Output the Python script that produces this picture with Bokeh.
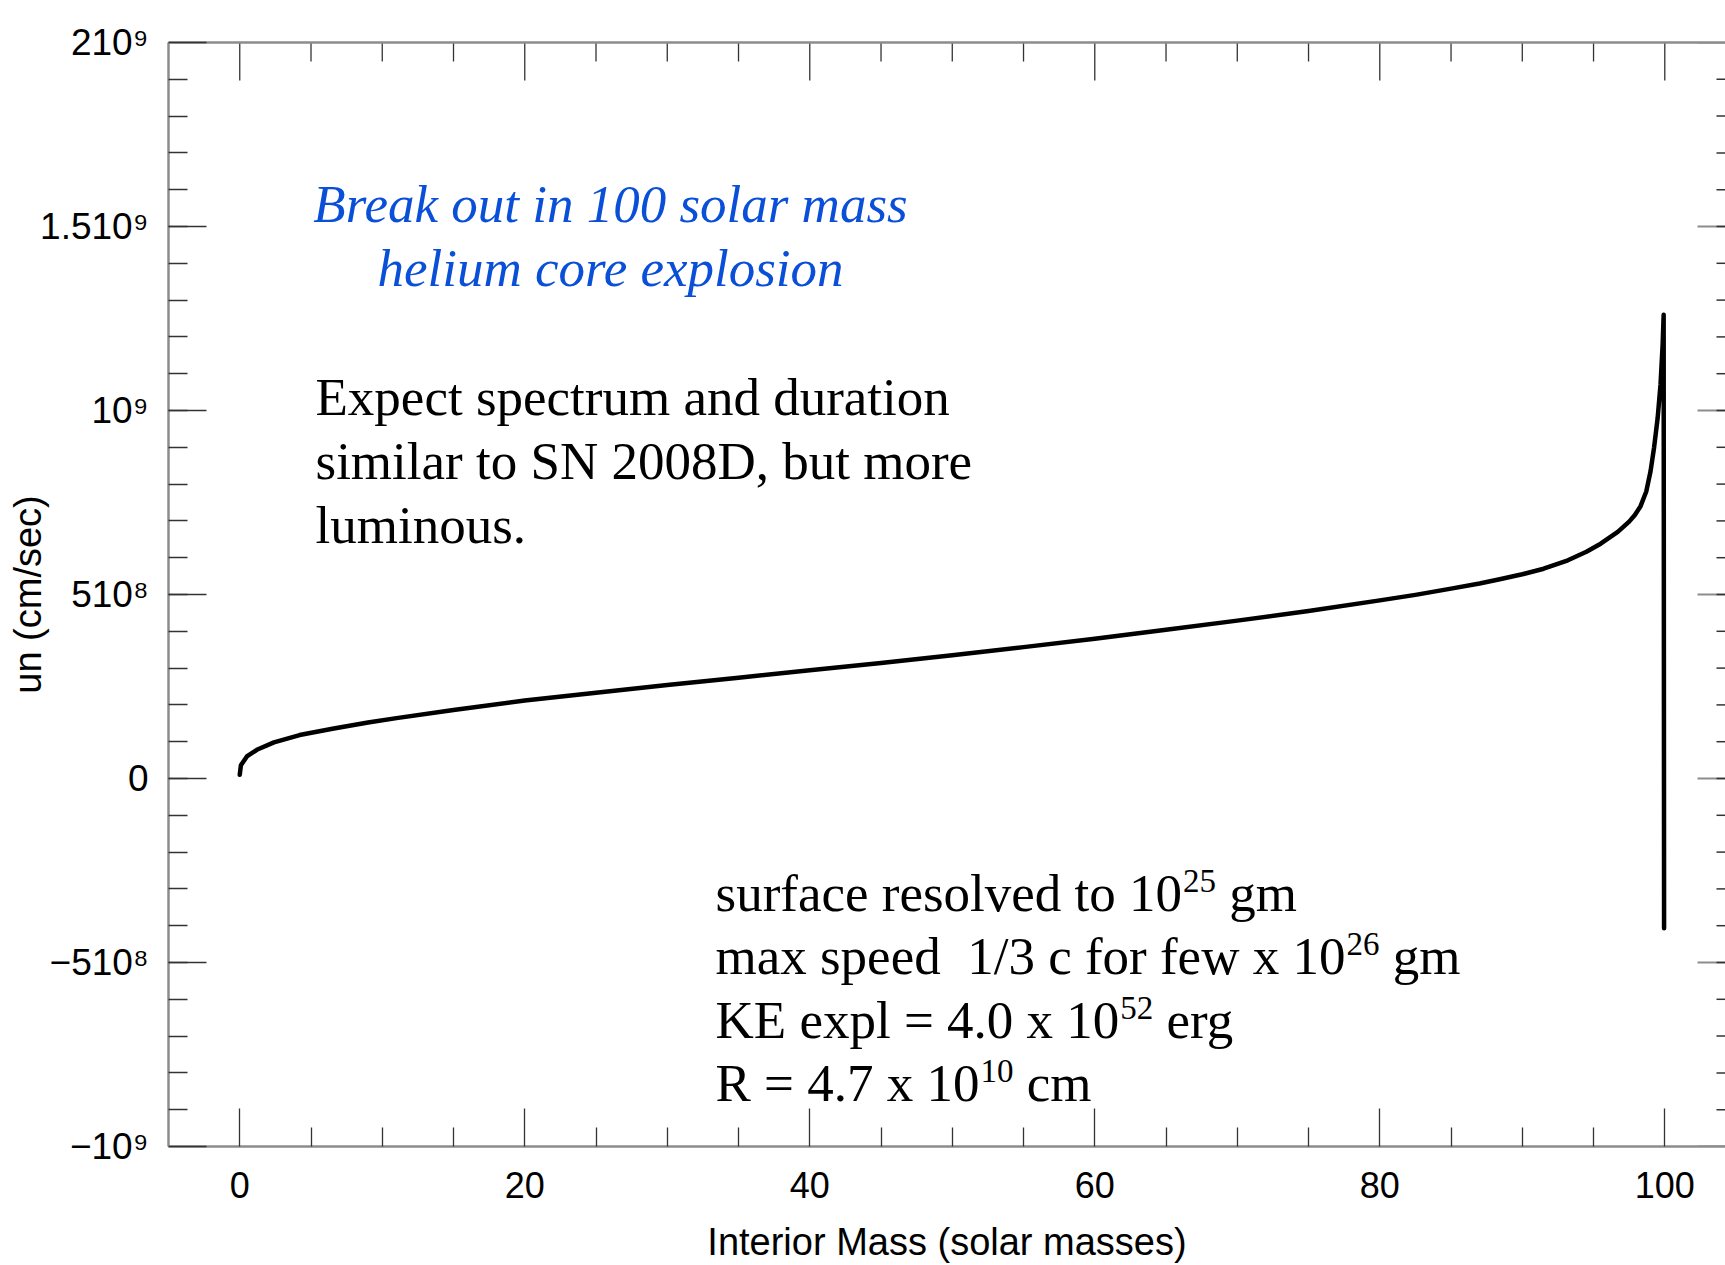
import math
from bokeh.plotting import figure
from bokeh.models import (LinearAxis, FixedTicker, Label, CustomJSTickFormatter,
                          Range1d)
from bokeh.embed import file_html
from bokeh.resources import INLINE

# ---------------- data ----------------
mass = [0.0, 0.08, 0.5, 1.2, 2.4, 4.2, 6.6, 9.0, 11.0, 15.0, 20.0, 25.0,
        30.0, 35.0, 40.0, 45.0, 50.0, 55.0, 60.0, 65.0, 70.0, 75.0, 80.0,
        82.5, 85.0, 87.0, 88.5, 90.0, 91.5, 93.2, 94.5, 95.5, 96.7, 97.5,
        97.9, 98.3, 98.7, 99.0, 99.25, 99.5, 99.7, 99.85, 99.92, 99.95]
velocity_1e8 = [0.10, 0.36, 0.60, 0.78, 0.98, 1.18, 1.36, 1.52, 1.64, 1.86,
                2.12, 2.33, 2.54, 2.74, 2.94, 3.14, 3.35, 3.57, 3.80, 4.04,
                4.29, 4.55, 4.84, 4.99, 5.16, 5.30, 5.42, 5.55, 5.70, 5.93,
                6.16, 6.38, 6.70, 6.98, 7.16, 7.40, 7.80, 8.35, 9.00, 9.80,
                10.7, 11.8, 12.6, -4.07]

x_major = [0, 20, 40, 60, 80, 100]
x_minor = [5, 10, 15, 25, 30, 35, 45, 50, 55, 65, 70, 75, 85, 90, 95]
y_major = [-1e9, -5e8, 0, 5e8, 1e9, 1.5e9, 2e9]
y_tick_labels = ["\u221210\u2079", "\u2212510\u2078", "0", "510\u2078",
                 "10\u2079", "1.510\u2079", "210\u2079"]

title_lines = ["Break out in 100 solar mass", "helium core explosion"]
note_lines = ["Expect spectrum and duration", "similar to SN 2008D, but more",
              "luminous."]
fact_lines = [("surface resolved to 10", "25", "gm"),
              ("max speed\u00a0 1/3 c for few x 10", "26", "gm"),
              ("KE expl = 4.0 x 10", "52", "erg"),
              ("R = 4.7 x 10", "10", "cm")]

x_label = "Interior Mass (solar masses)"
y_label = "un (cm/sec)"

# ---------------- layout constants ----------------
W, H = 1725, 1265
LEFT, TOP, BOTTOM = 168, 42, 1148
X_START, X_END = -5, 104.26
Y_START, Y_END = -1e9, 2e9
SANS = "Liberation Sans"
SERIF = "Liberation Serif"
BLUE = "#0a4fd7"
AXIS_GRAY = "#8c8c8c"
TICK_DARK = "#333333"

velocity = [v * 1e8 for v in velocity_1e8]
y_minor = [k * 1e8 for k in range(-9, 20)]

p = figure(width=W, height=H, x_range=Range1d(X_START, X_END),
           y_range=Range1d(Y_START, Y_END), output_backend="svg",
           toolbar_location=None, x_axis_type=None, y_axis_type=None,
           min_border_left=LEFT, min_border_right=0, min_border_top=TOP,
           min_border_bottom=H - BOTTOM)
p.outline_line_color = None
p.background_fill_color = "white"
p.border_fill_color = "white"

# bottom axis with labels
xb = LinearAxis(ticker=FixedTicker(ticks=x_major, minor_ticks=x_minor),
                major_tick_in=38, major_tick_out=0, minor_tick_in=19,
                minor_tick_out=0, axis_line_color=AXIS_GRAY,
                axis_line_width=2.5, major_tick_line_color=TICK_DARK,
                major_tick_line_width=1.3, minor_tick_line_color=TICK_DARK,
                minor_tick_line_width=1.3, major_label_text_font=SANS,
                major_label_text_font_size="36px",
                major_label_text_color="black", major_label_standoff=25,
                axis_label=x_label, axis_label_text_font=SANS,
                axis_label_text_font_size="38px",
                axis_label_text_font_style="normal",
                axis_label_text_line_height=0.7,
                axis_label_text_color="black", axis_label_standoff=20)
p.add_layout(xb, "below")

# left axis with labels
y_fmt = CustomJSTickFormatter(args=dict(vals=y_major, labs=y_tick_labels),
                              code="""
for (let i = 0; i < vals.length; i++) {
  if (Math.abs(tick - vals[i]) < 1) { return labs[i]; }
}
return "";
""")
yl = LinearAxis(ticker=FixedTicker(ticks=y_major, minor_ticks=y_minor),
                formatter=y_fmt,
                major_tick_in=38, major_tick_out=0, minor_tick_in=19,
                minor_tick_out=0, axis_line_color=AXIS_GRAY,
                axis_line_width=2.5, major_tick_line_color=TICK_DARK,
                major_tick_line_width=1.5, minor_tick_line_color=TICK_DARK,
                minor_tick_line_width=1.5, major_label_text_font=SANS,
                major_label_text_font_size="37px",
                major_label_text_color="black", major_label_standoff=20,
                axis_label=y_label, axis_label_text_font=SANS,
                axis_label_text_font_size="38px",
                axis_label_text_font_style="normal",
                axis_label_text_color="black", axis_label_standoff=-12)
p.add_layout(yl, "left")

# top axis line (no ticks, no labels)
xt = LinearAxis(ticker=FixedTicker(ticks=[], minor_ticks=[]),
                major_tick_in=0, major_tick_out=0, minor_tick_in=0,
                minor_tick_out=0, axis_line_color=AXIS_GRAY,
                axis_line_width=2.5)
p.add_layout(xt, "above")

# inward tick marks on the top and right edges
p.ray(x=x_major, y=Y_END, length=38, length_units="screen",
      angle=-math.pi / 2, line_color=TICK_DARK, line_width=1.3)
p.ray(x=x_minor, y=Y_END, length=19, length_units="screen",
      angle=-math.pi / 2, line_color=TICK_DARK, line_width=1.3)
p.ray(x=X_END, y=y_major, length=28, length_units="screen", angle=math.pi,
      line_color=AXIS_GRAY, line_width=2)
p.ray(x=X_END, y=y_minor, length=9, length_units="screen", angle=math.pi,
      line_color=TICK_DARK, line_width=1.5)

# ---------------- the curve ----------------
p.line(mass, velocity, line_color="black", line_width=4.5,
       line_join="round", line_cap="round")

# ---------------- annotations ----------------
TIMES_W = {' ': 250, '\u00a0': 250, 'a': 444, 'b': 500, 'c': 444, 'd': 500,
           'e': 444, 'f': 333, 'g': 500, 'h': 500, 'i': 278, 'j': 278,
           'k': 500, 'l': 278, 'm': 778, 'n': 500, 'o': 500, 'p': 500,
           'q': 500, 'r': 333, 's': 389, 't': 278, 'u': 500, 'v': 500,
           'w': 722, 'x': 500, 'y': 500, 'z': 444, 'K': 722, 'E': 611,
           'R': 667, 'S': 556, 'N': 722, 'D': 722, '=': 564, '.': 250,
           '/': 278, ',': 250}


def tw(s, size):
    return sum(TIMES_W.get(ch, 500) for ch in s) * size / 1000.0


Y_FIX = 19


def sx(fx):
    return fx - LEFT


def sy(fy):
    return BOTTOM - fy + Y_FIX


FS = 53
SUP = 33
LINE = 64

for i, t in enumerate(title_lines):
    p.add_layout(Label(x=sx(610), y=sy(224.5 + i * LINE), x_units="screen",
                       y_units="screen", text=t, text_font=SERIF,
                       text_font_style="italic", text_font_size=f"{FS}px",
                       text_color=BLUE, text_align="center",
                       text_baseline="alphabetic"))

for i, t in enumerate(note_lines):
    p.add_layout(Label(x=sx(315), y=sy(417 + i * LINE), x_units="screen",
                       y_units="screen", text=t, text_font=SERIF,
                       text_font_size=f"{FS}px", text_color="black",
                       text_align="left", text_baseline="alphabetic"))

for i, (main, sup, tail) in enumerate(fact_lines):
    base = 913 + i * 63.5
    x0 = 715
    x1 = x0 + tw(main, FS) + 1
    x2 = x1 + tw(sup, SUP) + tw(" ", FS)
    for txt, xx, yy, fs in ((main, x0, base, FS), (sup, x1, base - 12, SUP),
                            (tail, x2, base, FS)):
        p.add_layout(Label(x=sx(xx), y=sy(yy), x_units="screen",
                           y_units="screen", text=txt, text_font=SERIF,
                           text_font_size=f"{fs}px", text_color="black",
                           text_align="left", text_baseline="alphabetic"))

open("out.html", "w").write(file_html(p, INLINE))
